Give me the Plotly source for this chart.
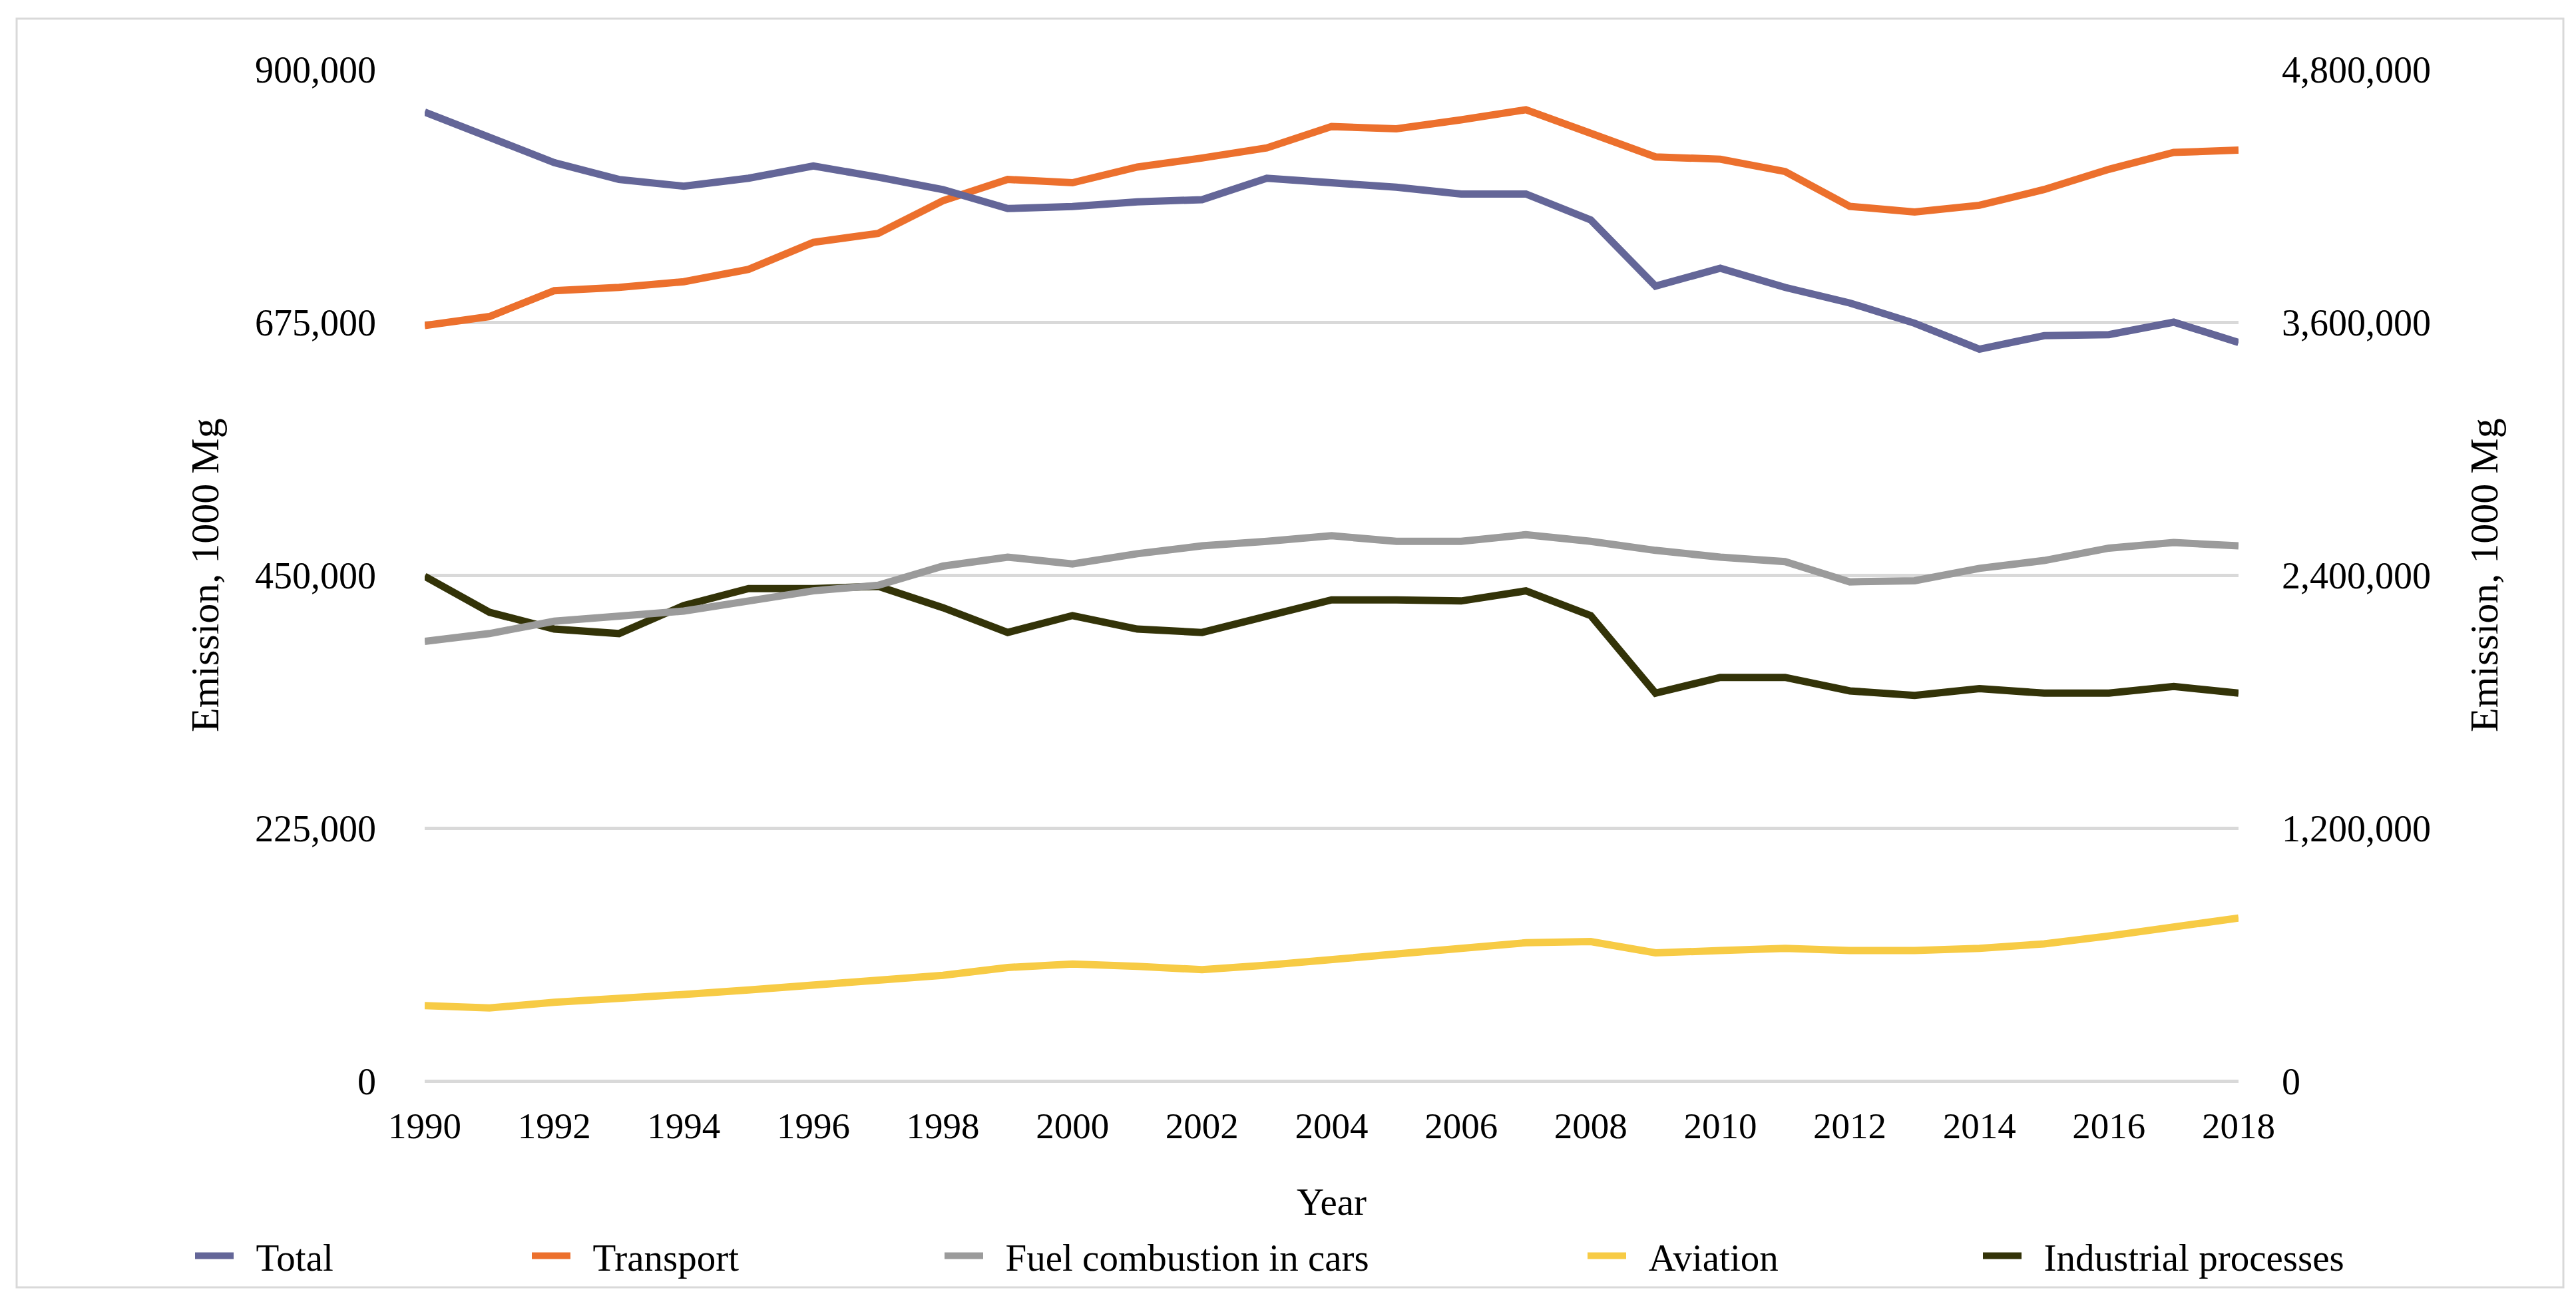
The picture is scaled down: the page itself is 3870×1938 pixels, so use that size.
import plotly.graph_objects as go

years = list(range(1990, 2019))

# Total (right axis, 1000 Mg)
total = [4597000, 4480000, 4357000, 4277000, 4245000, 4283000, 4341000, 4288000, 4229000, 4139000,
         4149000, 4171000, 4181000, 4283000, 4261000, 4240000, 4208000, 4208000, 4085000, 3771000,
         3856000, 3765000, 3691000, 3595000, 3472000, 3536000, 3541000, 3600000, 3504000]
# Left axis series (1000 Mg)
transport = [672000, 680000, 703000, 706000, 711000, 722000, 746000, 754000, 783000, 802000,
             799000, 813000, 821000, 830000, 849000, 847000, 855000, 864000, 843000, 822000,
             820000, 809000, 778000, 773000, 779000, 793000, 811000, 826000, 828000]
fuel_cars = [391000, 398000, 409000, 414000, 418000, 427000, 436000, 441000, 458000, 466000,
             460000, 469000, 476000, 480000, 485000, 480000, 480000, 486000, 480000, 472000,
             466000, 462000, 444000, 445000, 456000, 463000, 474000, 479000, 476000]
aviation = [67000, 65000, 70000, 73000, 77000, 81000, 85000, 89000, 94000, 101000,
            104000, 102000, 99000, 103000, 108000, 113000, 118000, 123000, 124000, 114000,
            116000, 118000, 116000, 116000, 118000, 122000, 129000, 137000, 145000]
industrial = [449000, 417000, 402000, 398000, 423000, 438000, 438000, 440000, 421000, 399000,
              414000, 402000, 399000, 413000, 428000, 428000, 427000, 436000, 414000, 345000,
              359000, 359000, 347000, 343000, 349000, 345000, 345000, 351000, 345000]

names = ["Total", "Transport", "Fuel combustion in cars", "Aviation", "Industrial processes"]
colors = ["#646698", "#EC702D", "#9B9B9B", "#F7CB45", "#333308"]

left_ticks = [0, 225000, 450000, 675000, 900000]
right_ticks = [0, 1200000, 2400000, 3600000, 4800000]
x_ticks = list(range(1990, 2019, 2))

FONT = "Liberation Serif, Times New Roman, serif"
GAP = "\u00a0\u00a0"

series = {
    "Total": (total, "y2", "legend"),
    "Transport": (transport, "y", "legend2"),
    "Fuel combustion in cars": (fuel_cars, "y", "legend3"),
    "Aviation": (aviation, "y", "legend4"),
    "Industrial processes": (industrial, "y", "legend5"),
}
draw_order = ["Industrial processes", "Aviation", "Fuel combustion in cars", "Transport", "Total"]

fig = go.Figure()
for nm in draw_order:
    vals, ax, lid = series[nm]
    col = colors[names.index(nm)]
    fig.add_trace(go.Scatter(
        x=years, y=vals, name=GAP + nm, mode="lines", yaxis=ax,
        line=dict(color=col, width=11), legend=lid,
        hovertemplate=nm + ": %{y:,}<extra>%{x}</extra>"))

W, H = 3870, 1938
L, R, T, B = 630, 3355, 96, 1616
pw, ph = R - L, B - T

def px(xp):
    return (xp - L) / pw

def py(yp):
    return (B - yp) / ph

legend_x = [290, 796, 1416, 2382, 2976]
legend_common = dict(orientation="h", yanchor="middle", y=py(1879), xanchor="left",
                     font=dict(family=FONT, size=57, color="#000000"), itemwidth=58,
                     bgcolor="rgba(0,0,0,0)", borderwidth=0)
legends = {}
for lid, lx in zip(["legend", "legend2", "legend3", "legend4", "legend5"], legend_x):
    legends[lid] = dict(legend_common, x=px(lx - 10))

fig.update_layout(
    width=W, height=H,
    margin=dict(l=L, r=W - R, t=T, b=H - B, autoexpand=False),
    paper_bgcolor="white", plot_bgcolor="white",
    font=dict(family=FONT, size=55, color="#000000"),
    showlegend=True,
    xaxis=dict(range=[1990, 2018], tickvals=x_ticks, showgrid=False, zeroline=False,
               showline=False, ticks="", ticklabelstandoff=30,
               tickfont=dict(family=FONT, size=55, color="#000000")),
    yaxis=dict(range=[0, 900000], tickvals=left_ticks, tickformat=",",
               showgrid=True, gridcolor="#D9D9D9", gridwidth=5,
               zeroline=True, zerolinecolor="#D9D9D9", zerolinewidth=5,
               showline=False, ticks="", ticklabelstandoff=72,
               tickfont=dict(family=FONT, size=56, color="#000000")),
    yaxis2=dict(range=[0, 4800000], tickvals=right_ticks, tickformat=",",
                overlaying="y", side="right", showgrid=False, zeroline=False,
                showline=False, ticks="", ticklabelstandoff=64,
                tickfont=dict(family=FONT, size=56, color="#000000")),
    annotations=[
        dict(text="Emission, 1000 Mg", xref="paper", yref="paper", x=px(300), y=0.5,
             textangle=-90, showarrow=False, xanchor="center", yanchor="middle",
             font=dict(family=FONT, size=60, color="#000000")),
        dict(text="Emission, 1000 Mg", xref="paper", yref="paper", x=px(3724), y=0.5,
             textangle=-90, showarrow=False, xanchor="center", yanchor="middle",
             font=dict(family=FONT, size=60, color="#000000")),
        dict(text="Year", xref="paper", yref="paper", x=0.5, y=py(1797),
             showarrow=False, xanchor="center", yanchor="middle",
             font=dict(family=FONT, size=57, color="#000000")),
    ],
    shapes=[dict(type="rect", xref="paper", yref="paper",
                 x0=px(17), x1=px(3843), y0=py(1926), y1=py(20),
                 line=dict(color="#D9D9D9", width=3), fillcolor="rgba(0,0,0,0)", layer="below")],
    **legends,
)

fig.write_html("out.html")
